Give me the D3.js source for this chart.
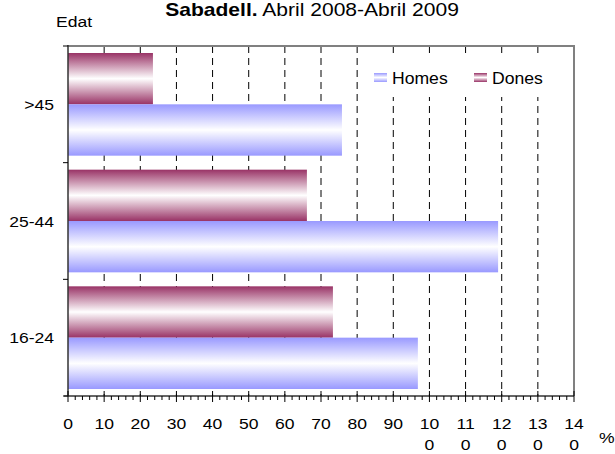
<!DOCTYPE html>
<html><head><meta charset="utf-8">
<script src="https://cdn.jsdelivr.net/npm/d3@7"></script>
<style>body{margin:0;background:#fff}svg{display:block;font-family:"Liberation Sans",Arial,sans-serif}</style>
</head><body><div id="chart"></div>
<script>
const ages = [">45", "25-44", "16-24"];
const homes = [75.8, 119, 96.8];
const dones = [23.5, 66.1, 73.3];
const xTicks = [0, 10, 20, 30, 40, 50, 60, 70, 80, 90, 100, 110, 120, 130, 140];

const W = 615, H = 454, m = { l: 68, r: 41, t: 46, b: 58 };
const SX = 1.17; // source picture is stretched sideways, text too
const x = d3.scaleLinear().domain([0, 140]).range([m.l, W - m.r]);
const y = d3.scaleBand().domain(ages).range([m.t, H - m.b]).paddingInner(0.12).paddingOuter(0.06);
const sub = d3.scaleBand().domain(["dones", "homes"]).range([0, y.bandwidth()]);

const svg = d3.select("#chart").append("svg").attr("width", W).attr("height", H);
const defs = svg.append("defs");
function grad(id, c) {
  const g = defs.append("linearGradient").attr("id", id).attr("x1", 0).attr("x2", 0).attr("y1", 0).attr("y2", 1);
  g.append("stop").attr("offset", "0%").attr("stop-color", c);
  g.append("stop").attr("offset", "50%").attr("stop-color", "#fff");
  g.append("stop").attr("offset", "100%").attr("stop-color", c);
}
grad("gH", "#9999ff");
grad("gD", "#993366");

// stretched text helper
function label(sel, tx, ty, size, anchor, s) {
  return sel.append("text").attr("transform", `translate(${tx},${ty}) scale(${SX},1)`)
    .attr("font-size", size).attr("text-anchor", anchor).attr("fill", "#000").text(s);
}

// dashed gridlines
svg.append("g").selectAll("line").data(xTicks.slice(1, -1)).join("line")
  .attr("x1", x).attr("x2", x).attr("y1", m.t).attr("y2", H - m.b)
  .attr("stroke", "#000").attr("stroke-dasharray", "7 5").attr("stroke-width", 1);

// legend background
svg.append("rect").attr("x", 366).attr("y", 57).attr("width", 190).attr("height", 40).attr("fill", "#fff");

// bars
const rows = ages.map((a, i) => ({ a, h: homes[i], d: dones[i] }));
const g = svg.append("g");
g.selectAll("rect.d").data(rows).join("rect").attr("class", "d")
  .attr("x", x(0)).attr("y", (r) => y(r.a) + sub("dones")).attr("height", sub.bandwidth())
  .attr("width", (r) => x(r.d) - x(0)).attr("fill", "url(#gD)");
g.selectAll("rect.h").data(rows).join("rect").attr("class", "h")
  .attr("x", x(0)).attr("y", (r) => y(r.a) + sub("homes")).attr("height", sub.bandwidth())
  .attr("width", (r) => x(r.h) - x(0)).attr("fill", "url(#gH)");

// frame top/right
svg.append("path").attr("d", `M${m.l},${m.t}H${W - m.r}V${H - m.b}`)
  .attr("fill", "none").attr("stroke", "#808080").attr("stroke-width", 2);

// y axis
const yb = H - m.b;
svg.append("line").attr("x1", m.l).attr("x2", m.l).attr("y1", m.t - 1).attr("y2", yb)
  .attr("stroke", "#333").attr("stroke-width", 1.5);
const step = (yb - m.t) / ages.length;
svg.append("g").selectAll("line").data(d3.range(ages.length + 1)).join("line")
  .attr("x1", m.l - 5).attr("x2", m.l).attr("y1", (i) => m.t + i * step).attr("y2", (i) => m.t + i * step)
  .attr("stroke", "#000");
const yl = svg.append("g");
ages.forEach((a) => label(yl, m.l - 14, y(a) + y.bandwidth() / 2 + 5.5, 15, "end", a));

// x axis
svg.append("line").attr("x1", m.l - 4).attr("x2", W - m.r).attr("y1", yb).attr("y2", yb)
  .attr("stroke", "#333").attr("stroke-width", 1.5);
svg.append("g").selectAll("line").data(d3.range(0, 141, 2)).join("line")
  .attr("x1", x).attr("x2", x).attr("y1", yb).attr("y2", (v) => yb + (v % 10 === 0 ? 6 : 4))
  .attr("stroke", "#000");
svg.append("g").selectAll("line").data(xTicks).join("line")
  .attr("x1", x).attr("x2", x).attr("y1", yb - 5).attr("y2", yb).attr("stroke", "#000");
const tl = svg.append("g");
xTicks.forEach((v) => {
  const s = String(v);
  if (s.length < 3) {
    label(tl, x(v), 429, 15, "middle", s);
  } else {
    label(tl, x(v), 429, 15, "middle", s.slice(0, 2));
    label(tl, x(v), 450, 15, "middle", s.slice(2));
  }
});
label(svg, 599, 443, 15, "start", "%");

// titles
const title = label(svg, 312, 16, 18, "middle", null);
title.append("tspan").attr("font-weight", "bold").text("Sabadell.");
title.append("tspan").text(" Abril 2008-Abril 2009");
label(svg, 56, 27, 15, "start", "Edat");

// legend
const leg = [{ k: "Homes", f: "url(#gH)", x: 374 }, { k: "Dones", f: "url(#gD)", x: 474 }];
const lg = svg.append("g").selectAll("g").data(leg).join("g").attr("transform", (d) => `translate(${d.x},73)`);
lg.append("rect").attr("width", 13).attr("height", 9).attr("fill", (d) => d.f);
lg.append("text").attr("transform", `translate(18,11) scale(1.1,1)`).attr("font-size", 16).text((d) => d.k);
</script>
</body></html>
